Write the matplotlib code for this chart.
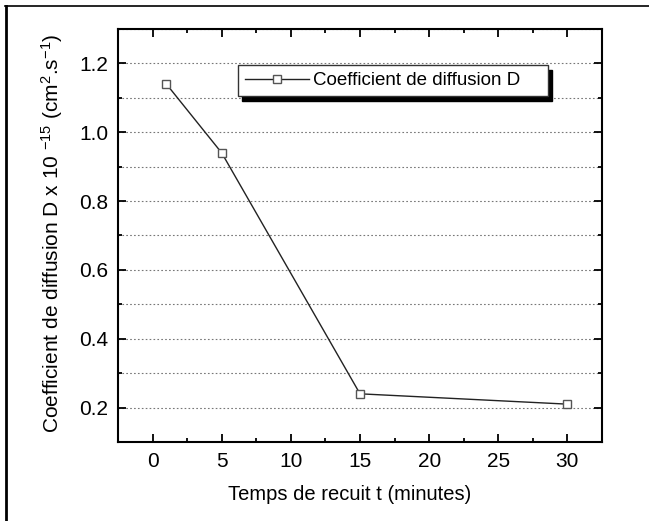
import matplotlib.pyplot as plt
from matplotlib.lines import Line2D
from matplotlib.ticker import MultipleLocator

plt.rcParams['font.family'] = ['Liberation Sans', 'DejaVu Sans']
plt.rcParams['mathtext.fontset'] = 'custom'
plt.rcParams['mathtext.rm'] = 'Liberation Sans'
plt.rcParams['mathtext.default'] = 'regular'

# data
temps = [1, 5, 15, 30]
coef_d = [1.14, 0.94, 0.24, 0.21]
xticks = [0, 5, 10, 15, 20, 25, 30]
yticks = [0.2, 0.4, 0.6, 0.8, 1.0, 1.2]

fig = plt.figure(figsize=(6.49, 5.21), dpi=100)
ax = fig.add_axes([118 / 649, 1 - 442 / 521, 484 / 649, 413 / 521])

ax.plot(temps, coef_d, color='#222222', lw=1.0, marker='s', ms=6,
        mfc='white', mec='#555555', mew=1.0,
        label='Coefficient de diffusion D    ')

ax.set_xlim(-2.5, 32.5)
ax.set_ylim(0.1, 1.30)
ax.set_xticks(xticks)
ax.set_yticks(yticks)
ax.yaxis.set_minor_locator(MultipleLocator(0.1))
ax.xaxis.set_minor_locator(MultipleLocator(2.5))
ax.grid(True, which='both', axis='y', ls=(0, (1.5, 2)), color='#777777', lw=0.8)
ax.tick_params(which='both', direction='in', top=True, right=True,
               labelsize=15, width=1.3, pad=7)
ax.tick_params(which='major', length=6)
ax.tick_params(which='minor', length=3)
for s in ax.spines.values():
    s.set_linewidth(1.5)

ax.set_xlabel('Temps de recuit t (minutes)', fontsize=14.5)
ax.xaxis.set_label_coords(0.478, -0.105)
ax.set_ylabel(r'Coefficient de diffusion D x 10 $^{-15}$ (cm$^{2}$.s$^{-1}$)',
              fontsize=15)
ax.yaxis.set_label_coords(-0.11, 0.505)

leg = ax.legend(loc='upper left', bbox_to_anchor=(0.248, 0.913),
                borderaxespad=0, fontsize=13.5, frameon=True, fancybox=False,
                shadow={'color': 'black', 'alpha': 1, 'ox': 2.5, 'oy': -3.5},
                borderpad=0.38, handlelength=3.4, handletextpad=0.2)
leg.get_frame().set_edgecolor('#333333')
leg.get_frame().set_linewidth(1.0)

# outer frame around the figure
fig.add_artist(Line2D([5 / 649, 1], [1 - 6 / 521] * 2, color='k', lw=1.2,
                      transform=fig.transFigure))
fig.add_artist(Line2D([6 / 649] * 2, [0, 1 - 6 / 521], color='k', lw=2,
                      transform=fig.transFigure))

fig.savefig('out.png', dpi=100)
